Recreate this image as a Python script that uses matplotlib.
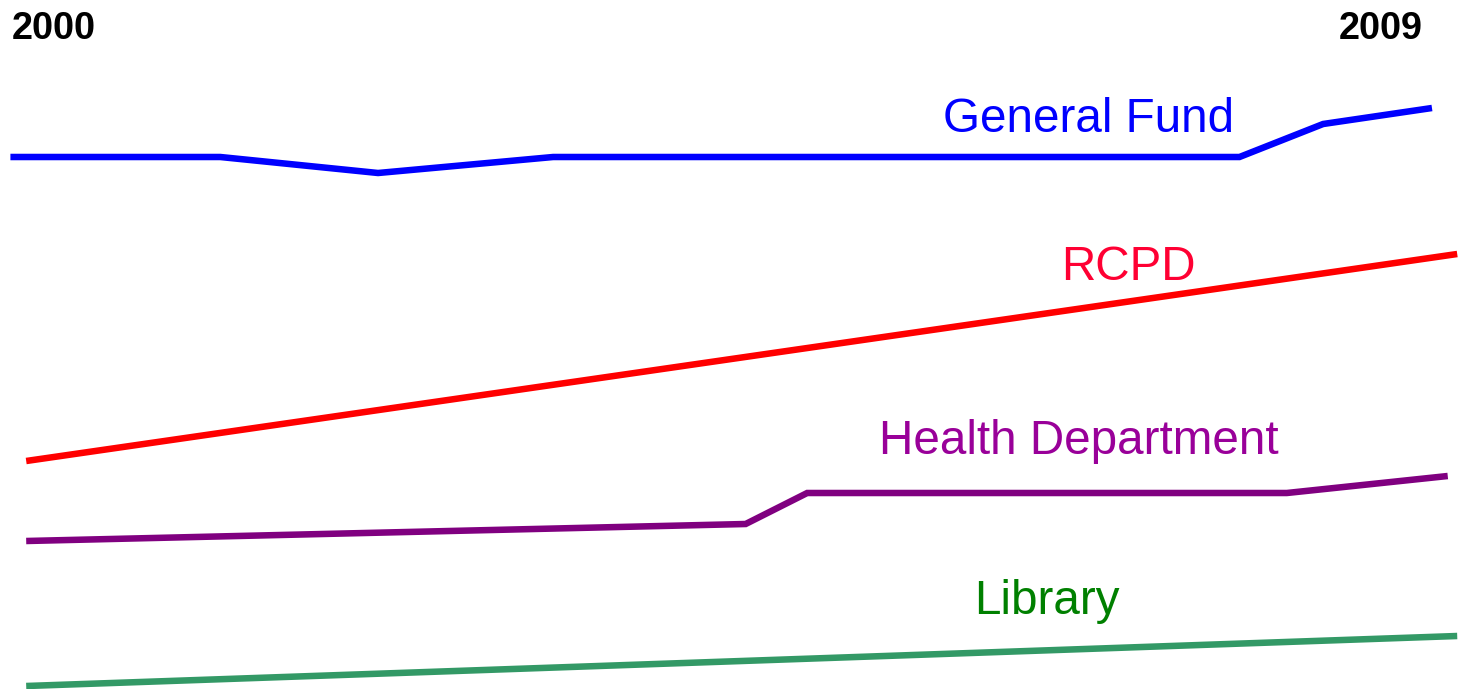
import numpy as np
import matplotlib.pyplot as plt

plt.rcParams['font.family'] = ['Liberation Sans', 'DejaVu Sans']

# years (decimal) and relative level of each fund
gf_years = [1999.99, 2001.32, 2002.32, 2003.43, 2007.78, 2008.31, 2009.0]
gf_vals = [532, 532, 516, 532, 532, 565, 581]

rcpd_years = [2000.09, 2009.16]
rcpd_vals = [228, 435]

health_years = [2000.09, 2004.65, 2005.04, 2008.08, 2009.10]
health_vals = [148, 165, 196, 196, 213]

lib_years = [2000.09, 2009.16]
lib_vals = [3, 53]

series = [
    ('General Fund', gf_years, gf_vals, '#0000ff', '#0000ff', 2007.745, 569),
    ('RCPD', rcpd_years, rcpd_vals, '#ff0000', '#ff0033', 2007.50, 421),
    ('Health Department', health_years, health_vals, '#800080', '#990099', 2008.03, 248),
    ('Library', lib_years, lib_vals, '#339966', '#008000', 2007.02, 88),
]

fig = plt.figure(figsize=(14.58, 6.89), dpi=100)
ax = fig.add_axes([0, 0, 1, 1])

for name, xs, ys, lc, tc, tx, ty in series:
    ax.plot(xs, ys, color=lc, lw=4.7, solid_capstyle='butt', solid_joinstyle='miter')
    ax.text(tx, ty, name, color=tc, fontsize=34.3, ha='right', va='center')

ax.text(2000.0, 660, '2000', fontsize=27.3, fontweight='bold', ha='left', va='center')
ax.text(2008.94, 660, '2009', fontsize=27.3, fontweight='bold', ha='right', va='center')

ax.set_xlim(1999.924, 2009.165)
ax.set_ylim(0, 689)
ax.axis('off')

plt.savefig('out.png', dpi=100)
